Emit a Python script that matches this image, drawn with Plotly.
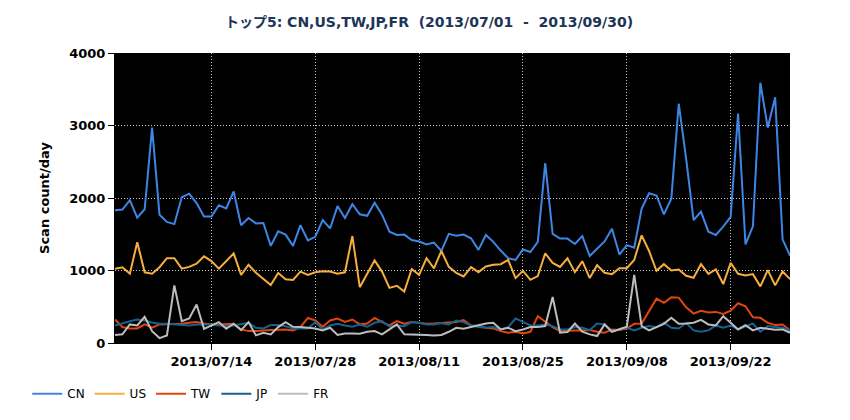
import pandas as pd
import plotly.graph_objects as go

# 2013/07/01 - 2013/09/30, one point per day
dates = pd.date_range("2013-07-01", "2013-09-30", freq="D")

cn = [1830, 1840, 1970, 1730, 1845, 2970, 1770, 1670, 1640, 2010, 2060, 1930, 1745, 1745,
      1900, 1855, 2090, 1625, 1725, 1650, 1655, 1340, 1540, 1495, 1340, 1625, 1415, 1465,
      1695, 1580, 1890, 1725, 1915, 1775, 1755, 1935, 1770, 1535, 1490, 1495, 1420, 1400,
      1360, 1385, 1270, 1505, 1480, 1495, 1445, 1285, 1490, 1395, 1275, 1170, 1145, 1290,
      1255, 1395, 2480, 1505, 1440, 1440, 1365, 1475, 1200, 1295, 1400, 1575, 1220, 1350,
      1315, 1855, 2065, 2035, 1775, 1990, 3300, 2540, 1695, 1810, 1535, 1490, 1605, 1740,
      3165, 1360, 1610, 3590, 2970, 3390, 1430, 1205]
us = [1025, 1045, 955, 1390, 975, 955, 1045, 1170, 1170, 1025, 1050, 1095, 1195, 1130,
      1025, 1130, 1235, 940, 1080, 970, 885, 800, 965, 880, 870, 985, 940, 975,
      990, 985, 955, 975, 1475, 770, 955, 1140, 985, 760, 790, 710, 1020, 940,
      1170, 1030, 1270, 1050, 968, 918, 1046, 977, 1055, 1078, 1087, 1146, 895, 995,
      872, 922, 1237, 1105, 1050, 1169, 977, 1128, 895, 1073, 968, 950, 1030, 1032,
      1146, 1484, 1269, 995, 1087, 1000, 1014, 927, 900, 1087, 954, 1014, 813, 1105,
      954, 932, 950, 781, 1005, 795, 986, 881]
tw = [324, 219, 201, 201, 256, 210, 256, 256, 256, 265, 279, 288, 269, 256,
      256, 256, 265, 187, 164, 164, 174, 178, 183, 187, 174, 219, 347, 311,
      224, 311, 338, 292, 324, 256, 269, 347, 288, 242, 301, 265, 288, 274,
      265, 269, 274, 288, 290, 315, 242, 233, 210, 201, 164, 142, 155, 132,
      155, 370, 288, 219, 164, 174, 174, 174, 178, 155, 142, 187, 180, 200,
      265, 269, 438, 612, 553, 630, 626, 493, 406, 443, 420, 429, 402, 447,
      548, 507, 356, 347, 279, 247, 256, 174]
jp = [242, 274, 301, 324, 311, 283, 265, 265, 256, 247, 242, 256, 256, 256,
      242, 233, 242, 256, 279, 210, 201, 247, 247, 230, 201, 201, 201, 288,
      187, 242, 265, 242, 224, 256, 224, 279, 301, 228, 242, 233, 288, 279,
      256, 256, 274, 256, 311, 288, 242, 219, 210, 219, 187, 219, 338, 292,
      242, 242, 256, 233, 187, 187, 219, 210, 178, 269, 256, 164, 190, 210,
      174, 210, 233, 219, 279, 210, 201, 279, 174, 155, 174, 242, 210, 242,
      187, 233, 269, 155, 233, 219, 210, 174]
fr = [110, 119, 256, 242, 361, 164, 68, 105, 795, 301, 338, 530, 196, 242,
      288, 196, 265, 178, 288, 105, 142, 119, 219, 288, 224, 219, 210, 201,
      174, 210, 110, 132, 132, 128, 155, 164, 119, 187, 256, 119, 119, 110,
      110, 105, 110, 155, 210, 196, 219, 247, 269, 279, 187, 210, 164, 187,
      219, 219, 233, 635, 142, 151, 269, 155, 119, 96, 256, 155, 187, 225,
      941, 233, 174, 219, 265, 347, 265, 269, 279, 320, 256, 242, 370, 279,
      187, 247, 174, 210, 201, 183, 187, 142]

tick_dates = ["2013-07-14", "2013-07-28", "2013-08-11", "2013-08-25", "2013-09-08", "2013-09-22"]

series = [
    ("CN", cn, "#3f86e4"),
    ("US", us, "#f6ae3c"),
    ("TW", tw, "#e2450f"),
    ("JP", jp, "#14628f"),
    ("FR", fr, "#bdbdbd"),
]

font_family = "DejaVu Sans, Noto Sans CJK JP, sans-serif"

fig = go.Figure()
for name, vals, color in series:
    fig.add_trace(go.Scatter(x=dates, y=vals, name=name, mode="lines",
                             line=dict(color=color, width=2)))

# page body has an 8px margin, so the figure is a bit smaller than the window
fig.update_layout(
    width=842, height=412,
    paper_bgcolor="white",
    plot_bgcolor="black",
    margin=dict(l=107, r=60, t=45, b=75),
    font=dict(family=font_family, size=12, color="black"),
    title=dict(text="トップ5: CN,US,TW,JP,FR \u00a0(2013/07/01 \u00a0- \u00a02013/09/30)",
               x=0.5, xanchor="center", y=0.966, yanchor="middle",
               font=dict(size=14, color="#1d3557", weight="bold")),
    legend=dict(orientation="h", x=-0.13, xanchor="left", y=-0.175, yanchor="middle",
                font=dict(size=12), bgcolor="rgba(0,0,0,0)", itemwidth=30),
    showlegend=True,
)

fig.update_xaxes(
    range=[dates[0], dates[-1]],
    tickvals=tick_dates, tickformat="%Y/%m/%d",
    ticks="outside", ticklen=6, tickcolor="black",
    tickfont=dict(size=13, weight="bold"),
    showgrid=True, gridcolor="#cccccc", griddash="1px,2px", gridwidth=1,
    showline=True, linecolor="black", zeroline=False,
)
fig.update_yaxes(
    range=[0, 4000], tickvals=[0, 1000, 2000, 3000, 4000],
    ticks="outside", ticklen=6, tickcolor="black",
    tickfont=dict(size=13, weight="bold"),
    title=dict(text="Scan count/day", font=dict(size=13, weight="bold"), standoff=16),
    automargin=False,
    showgrid=True, gridcolor="#cccccc", griddash="1px,2px", gridwidth=1,
    showline=True, linecolor="black", zeroline=False,
)

fig.write_html("out.html")
